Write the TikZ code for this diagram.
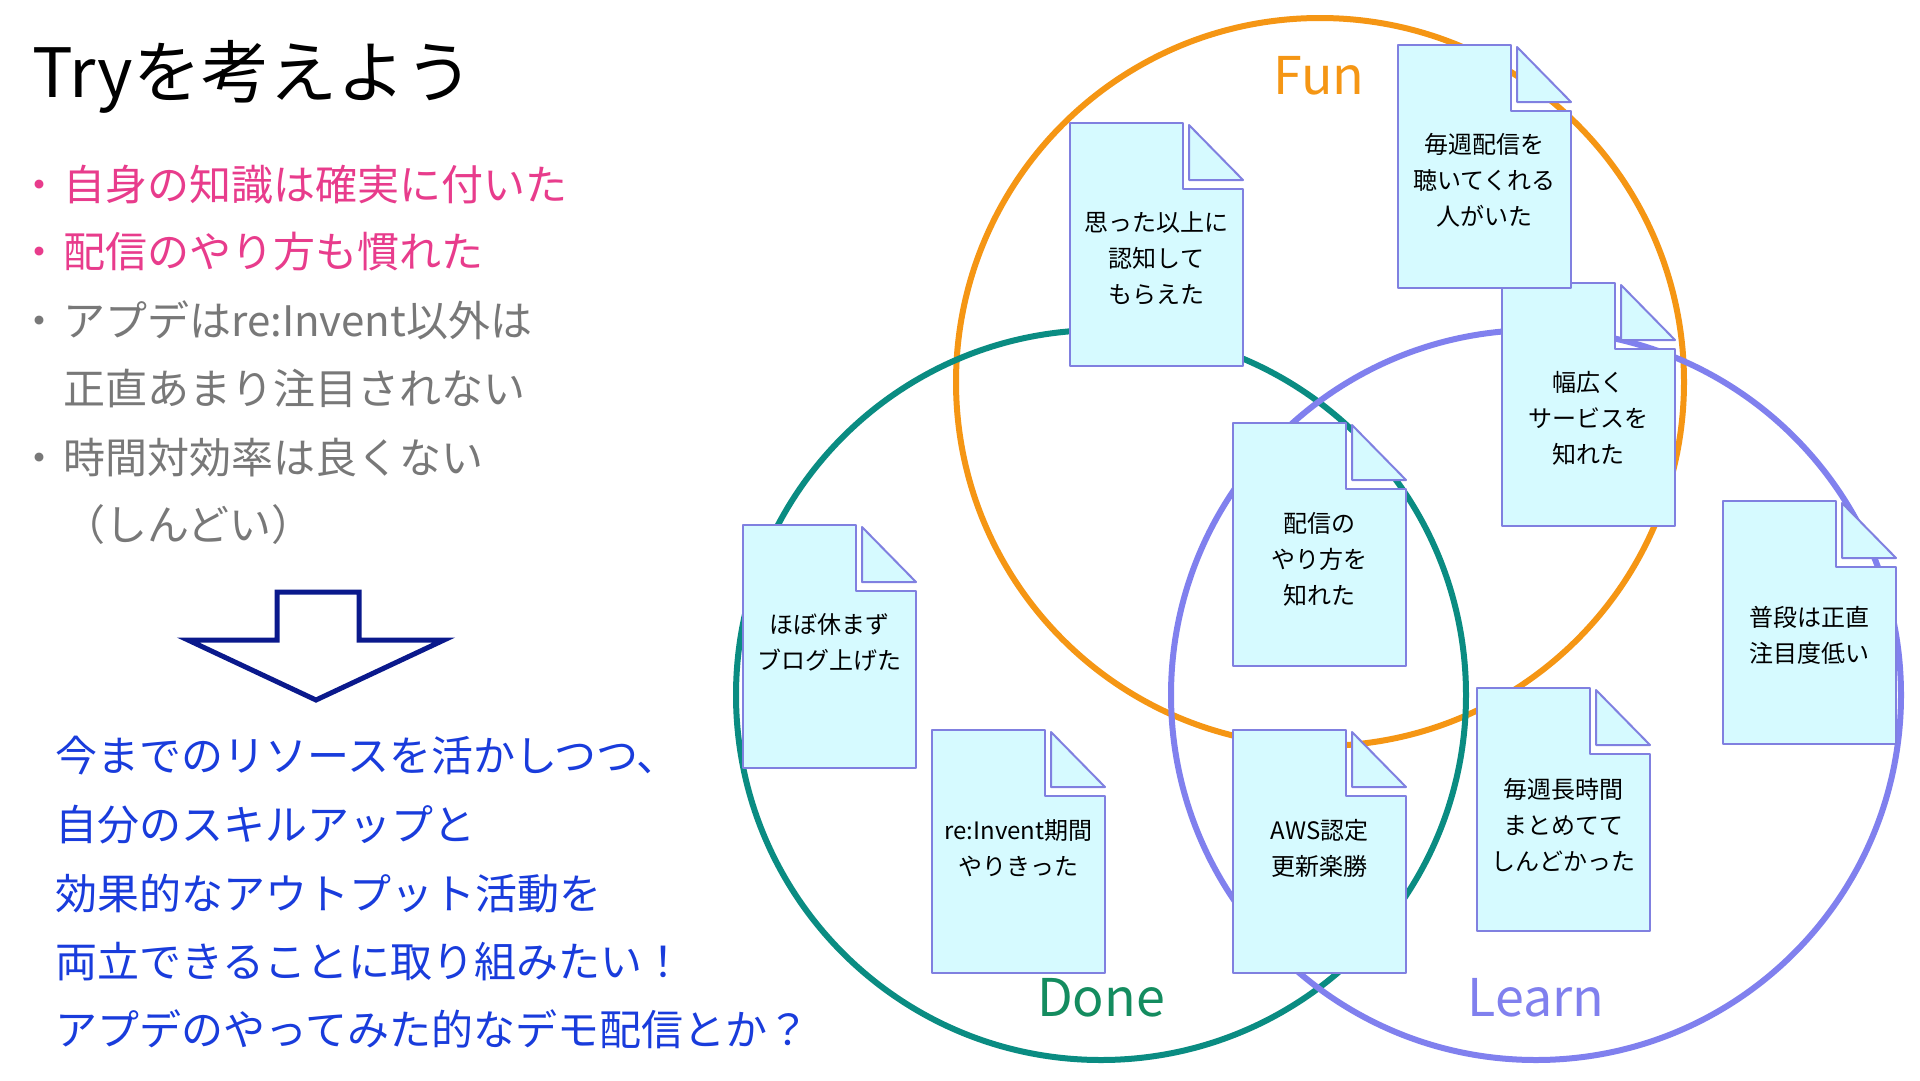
\documentclass[tikz,border=0pt]{standalone}
\usepackage{fontspec}
\setmainfont{Noto Sans CJK JP}
\definecolor{func}{RGB}{245,150,20}
\definecolor{donec}{RGB}{10,140,130}
\definecolor{donelab}{RGB}{20,140,95}
\definecolor{learnc}{RGB}{128,128,238}
\definecolor{notefill}{RGB}{214,250,255}
\definecolor{noteline}{RGB}{128,128,224}
\definecolor{pinkc}{RGB}{232,60,140}
\definecolor{grayc}{RGB}{120,120,120}
\definecolor{bluec}{RGB}{25,60,220}
\definecolor{navyc}{RGB}{10,25,140}
\tikzset{
  noteshape/.style={draw=noteline, fill=notefill, line width=2pt, line join=round},
  notetext/.style={align=center, font=\fontsize{24}{36}\selectfont, text=black, inner sep=0pt},
  ring/.style={line width=6pt},
  ringlabel/.style={font=\fontsize{52}{60}\selectfont, inner sep=0pt},
  bigline/.style={anchor=base west, font=\fontsize{42}{50}\selectfont, inner sep=0pt},
  bulletdot/.style={anchor=base, font=\fontsize{42}{50}\selectfont, inner sep=0pt},
}
\newcommand{\stickynote}[5]{%
  \begin{scope}[shift={(#2,#3)}]
    \draw[noteshape] (0,0) -- (113,0) -- (113,66) -- (173,66) -- (173,243) -- (0,243) -- cycle;
    \draw[noteshape] (119,2) -- (173,57) -- (119,57) -- cycle;
    \node[notetext] (#1) at (86.5,#4) {#5};
  \end{scope}}
\begin{document}
\begin{tikzpicture}[x=1pt,y=-1pt]
\fill[white] (0,0) rectangle (1920,1080);
\useasboundingbox (0,0) rectangle (1920,1080);

% Venn circles
\draw[ring, draw=func] (1320,382) circle[radius=364pt];
\draw[ring, draw=donec] (1101,695) circle[radius=365pt];
\draw[ring, draw=learnc] (1536,695) circle[radius=365pt];

\node[ringlabel, text=func] (funlab) at (1319,76) {Fun};
\node[ringlabel, text=donelab] (donelab) at (1101,998) {Done};
\node[ringlabel, text=learnc] (learnlab) at (1536,998) {Learn};

% notes
\stickynote{n1}{1070}{123}{135}{思った以上に\\認知して\\もらえた}
\stickynote{n3}{1502}{283}{135}{幅広く\\サービスを\\知れた}
\stickynote{n2}{1398}{45}{135}{毎週配信を\\聴いてくれる\\人がいた}
\stickynote{n4}{1723}{501}{134}{普段は正直\\注目度低い}
\stickynote{n5}{743}{525}{117}{ほぼ休まず\\ブログ上げた}
\stickynote{n7}{1233}{423}{136}{配信の\\やり方を\\知れた}
\stickynote{n6}{932}{730}{118}{re:Invent期間\\やりきった}
\stickynote{n8}{1233}{730}{118}{AWS認定\\更新楽勝}
\stickynote{n9}{1477}{688}{137}{毎週長時間\\まとめてて\\しんどかった}

% left text
\node[anchor=base west, font=\fontsize{68}{80}\selectfont, inner sep=0pt] (title) at (32,97) {Tryを考えよう};

\node[bulletdot, text=pinkc] (d1) at (40,200) {・};
\node[bigline, text=pinkc] (t1) at (63,200) {自身の知識は確実に付いた};
\node[bulletdot, text=pinkc] (d2) at (40,267) {・};
\node[bigline, text=pinkc] (t2) at (63,267) {配信のやり方も慣れた};
\node[bulletdot, text=grayc] (d3) at (40,336) {・};
\node[bigline, text=grayc] (t3) at (63,336) {アプデはre:Invent以外は};
\node[bigline, text=grayc] (t4) at (63,404) {正直あまり注目されない};
\node[bulletdot, text=grayc] (d5) at (40,473) {・};
\node[bigline, text=grayc] (t5) at (63,473) {時間対効率は良くない};
\node[bigline, text=grayc] (t6) at (63,540) {（しんどい）};

% arrow
\draw[draw=navyc, fill=white, line width=5pt, line join=miter]
  (277,592) -- (359,592) -- (359,640) -- (444,640) -- (316,700) -- (188,640) -- (277,640) -- cycle;

\node[bigline, text=bluec] (c1) at (55,771) {今までのリソースを活かしつつ、};
\node[bigline, text=bluec] (c2) at (55,840) {自分のスキルアップと};
\node[bigline, text=bluec] (c3) at (55,909) {効果的なアウトプット活動を};
\node[bigline, text=bluec] (c4) at (55,977) {両立できることに取り組みたい！};
\node[bigline, text=bluec] (c5) at (55,1045) {アプデのやってみた的なデモ配信とか？};
\end{tikzpicture}
\end{document}
